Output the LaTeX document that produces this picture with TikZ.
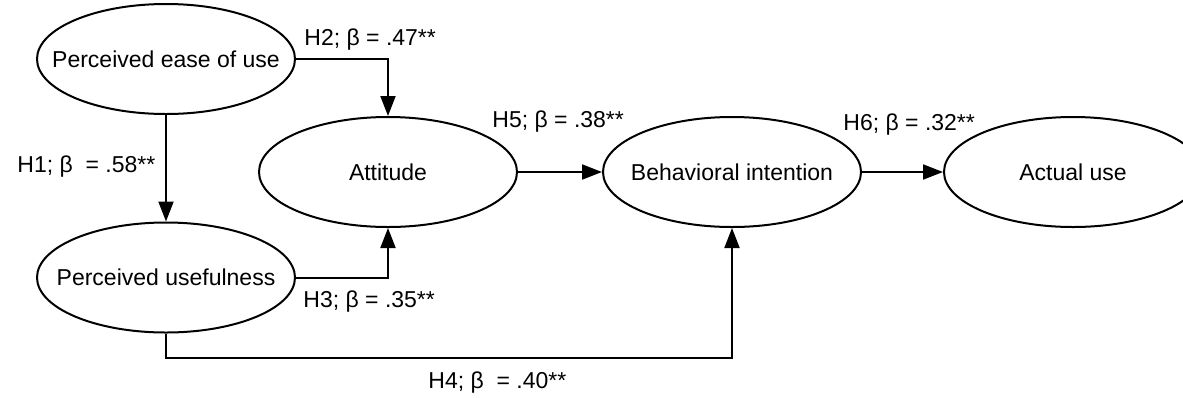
\documentclass[tikz,border=0pt]{standalone}
\usepackage{fontspec}
\setmainfont{Liberation Sans}
\usetikzlibrary{shapes.geometric,arrows.meta}
\begin{document}
\begin{tikzpicture}[x=0.5pt,y=-0.5pt,
  construct/.style={draw=black,line width=1pt,ellipse,inner sep=0pt,
    minimum width=129pt,minimum height=55pt,
    label={[font=\fontsize{11.5}{14}\selectfont,inner sep=0pt]center:#1}},
  arr/.style={draw=black,line width=1pt,-{Triangle[length=10pt,width=7.5pt]}},
  coef/.style={anchor=west,inner sep=0pt,font=\fontsize{11.5}{14}\selectfont}]
\useasboundingbox (0,0) rectangle (1183,397);
\node[construct={Perceived ease of use}] (peou) at (166,59) {};
\node[construct={Perceived usefulness}] (pu) at (166,277.5) {};
\node[construct={Attitude}] (att) at (388,172) {};
\node[construct={Behavioral intention}] (bi) at (732,172) {};
\node[construct={Actual use}] (au) at (1073,172) {};
\coordinate (h4turn) at (732,358);
\draw[arr] (peou.south) -- (pu.north);
\draw[arr] (peou.east) -| (att.north);
\draw[arr] (pu.east) -| (att.south);
\draw[arr] (pu.south) |- (h4turn) -- (bi.south);
\draw[arr] (att.east) -- (bi.west);
\draw[arr] (bi.east) -- (au.west);
\node[coef] (l1) at (17,167) {H1; β\ \ = .58**};
\node[coef] (l2) at (304,40) {H2; β = .47**};
\node[coef] (l3) at (303,302) {H3; β = .35**};
\node[coef] (l4) at (428,383) {H4; β\ \ = .40**};
\node[coef] (l5) at (492,122) {H5; β = .38**};
\node[coef] (l6) at (843,125) {H6; β = .32**};
\end{tikzpicture}
\end{document}
